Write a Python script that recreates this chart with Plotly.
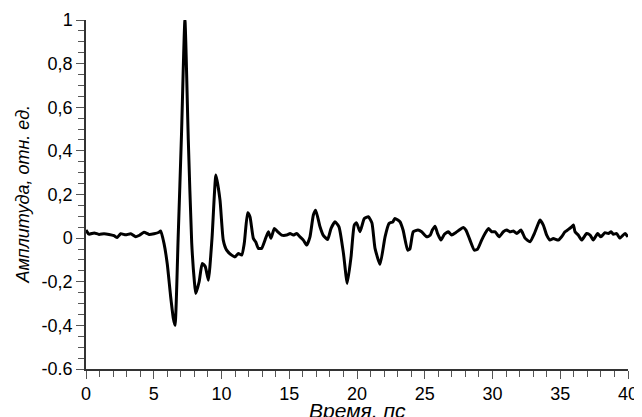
import plotly.graph_objects as go

# Time (ps) and amplitude (rel. units)
time_ps = [0.0, 0.22, 0.6, 0.96, 1.33, 1.7, 2.07, 2.3, 2.56, 2.93, 3.3, 3.67, 3.91, 4.28, 4.65, 5.02,
           5.39, 5.51, 5.76, 6.0, 6.25, 6.45, 6.57, 6.8, 7.05, 7.3, 7.55, 7.8, 8.0, 8.1, 8.35, 8.58, 8.8,
           9.03, 9.3, 9.59, 9.89, 10.13, 10.38, 10.75, 11.0, 11.24, 11.49, 11.68, 11.93, 12.1, 12.35,
           12.52, 12.72, 12.96, 13.21, 13.46, 13.65, 13.9, 14.15, 14.44, 14.81, 15.06, 15.3, 15.55,
           15.79, 16.04, 16.29, 16.53, 16.78, 16.95, 17.27, 17.5, 17.83, 18.08, 18.38, 18.67, 19.0,
           19.28, 19.56, 19.8, 19.97, 20.22, 20.54, 20.84, 21.1, 21.33, 21.7, 22.07, 22.36, 22.65,
           22.8, 23.17, 23.4, 23.74, 23.9, 24.15, 24.5, 24.77, 25.14, 25.4, 25.56, 25.76, 25.95,
           26.2, 26.45, 26.74, 26.99, 27.28, 27.6, 27.85, 28.04, 28.34, 28.66, 28.9, 29.2, 29.45,
           29.7, 29.94, 30.2, 30.48, 30.8, 31.05, 31.3, 31.54, 31.79, 32.1, 32.4, 32.77, 33.09,
           33.38, 33.5, 33.75, 34.0, 34.24, 34.49, 34.86, 35.1, 35.35, 35.6, 35.84, 35.97, 36.09,
           36.33, 36.58, 36.95, 37.2, 37.44, 37.76, 38.0, 38.3, 38.55, 38.75, 38.92, 39.16, 39.4,
           39.78, 40.0]
amplitude = [0.037, 0.018, 0.024, 0.017, 0.02, 0.017, 0.011, 0.003, 0.02, 0.015, 0.02, 0.006, 0.012,
             0.027, 0.017, 0.02, 0.027, 0.033, -0.025, -0.12, -0.27, -0.37, -0.4, 0.0, 0.48, 1.0,
             0.45, -0.02, -0.2, -0.254, -0.2, -0.116, -0.13, -0.193, 0.0, 0.289, 0.174, -0.009, -0.055,
             -0.078, -0.086, -0.07, -0.078, -0.024, 0.116, 0.098, -0.001, -0.017, -0.047, -0.047,
             -0.009, 0.029, -0.001, 0.044, 0.029, 0.014, 0.014, 0.021, 0.014, 0.021, 0.006, -0.009,
             -0.032, 0.006, 0.106, 0.128, 0.052, 0.014, -0.006, 0.044, 0.075, 0.052, -0.07, -0.208,
             -0.086, 0.06, 0.07, 0.029, 0.09, 0.098, 0.07, -0.047, -0.12, 0.006, 0.067, 0.075, 0.09,
             0.075, 0.037, -0.055, -0.05, 0.029, 0.037, 0.029, 0.006, 0.013, 0.037, 0.055, 0.021,
             -0.009, 0.018, 0.029, 0.014, 0.025, 0.04, 0.049, 0.037, -0.009, -0.055, -0.05, -0.009,
             0.021, 0.044, 0.029, 0.029, 0.006, 0.029, 0.037, 0.029, 0.033, 0.021, 0.037, 0.0,
             -0.017, 0.021, 0.067, 0.083, 0.06, 0.014, -0.009, -0.002, -0.009, 0.006, 0.029, 0.04,
             0.052, 0.06, 0.029, 0.014, -0.009, 0.021, 0.014, -0.009, 0.021, 0.006, 0.025, 0.021,
             0.029, 0.018, 0.021, 0.0, 0.021, 0.006]

x_tick_vals = [0, 5, 10, 15, 20, 25, 30, 35, 40]
x_tick_text = ["0", "5", "10", "15", "20", "25", "30", "35", "40"]
y_tick_vals = [-0.6, -0.4, -0.2, 0, 0.2, 0.4, 0.6, 0.8, 1.0]
y_tick_text = ["-0.6", "-0,4", "-0,2", "0", "0,2", "0,4", "0,6", "0,8", "1"]

x_title = "Время, пс"
y_title = "Амплитуда, отн. ед."

FONT = "Liberation Sans, Arial, sans-serif"

fig = go.Figure()
fig.add_trace(go.Scatter(x=time_ps, y=amplitude, mode="lines",
                         line=dict(color="black", width=3, shape="spline", smoothing=0.5),
                         showlegend=False))

axis_common = dict(
    showgrid=False, zeroline=False, showline=True, linecolor="#333333", linewidth=1.5,
    ticks="outside", ticklen=8, tickwidth=1.2, tickcolor="#555555",
    tickfont=dict(family=FONT, size=18, color="black"),
    mirror=False, automargin=False,
)

fig.update_xaxes(range=[0, 40], tickvals=x_tick_vals, ticktext=x_tick_text,
                 minor=dict(ticks="outside", dtick=1, ticklen=6, tickwidth=1.2, tickcolor="#555555"),
                 **axis_common)
fig.update_yaxes(range=[-0.6, 1.0], tickvals=y_tick_vals, ticktext=y_tick_text,
                 minor=dict(ticks="outside", dtick=0.05, ticklen=6, tickwidth=1.2, tickcolor="#555555"),
                 **axis_common)

fig.add_annotation(text="<i>" + x_title + "</i>", xref="paper", yref="paper",
                   x=0.5, y=-0.118, xanchor="center", yanchor="middle", showarrow=False,
                   font=dict(family=FONT, size=21, color="black"))
fig.add_annotation(text="<i>" + y_title + "</i>", xref="paper", yref="paper",
                   x=-0.118, y=0.5, xanchor="center", yanchor="middle", showarrow=False,
                   textangle=-90, font=dict(family=FONT, size=18, color="black"))

# page body adds an 8px offset; size the figure to the visible area
fig.update_layout(
    width=634, height=409,
    margin=dict(l=78, r=14, t=12, b=48),
    paper_bgcolor="white", plot_bgcolor="white",
    font=dict(family=FONT, size=18, color="black"),
)

fig.write_html("out.html")
